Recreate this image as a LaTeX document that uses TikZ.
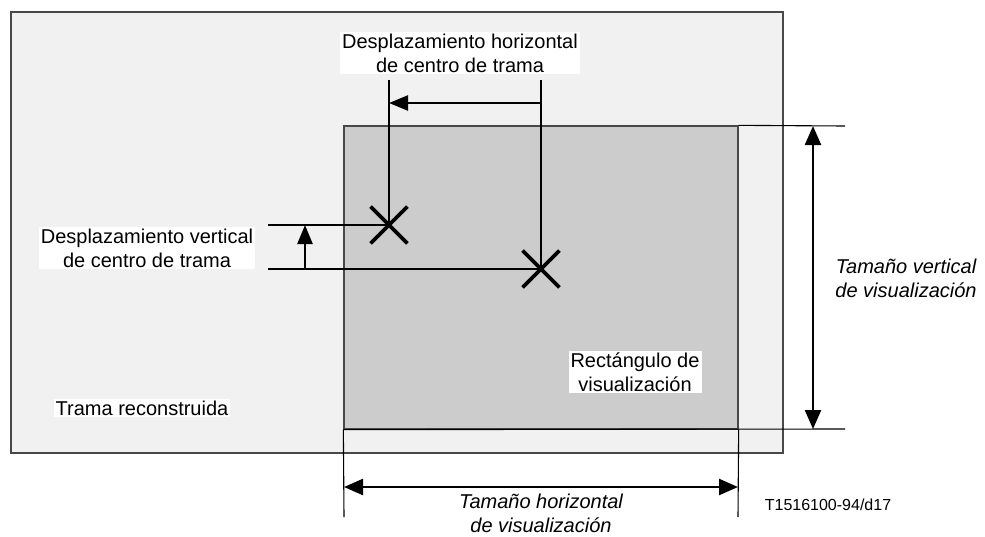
\documentclass[tikz,border=0pt]{standalone}
\usepackage{fontspec}
\setmainfont{Liberation Sans}
\usepackage{xcolor}
\usetikzlibrary{arrows.meta,shapes.misc,positioning}

\definecolor{framegray}{HTML}{484848}
\definecolor{lightbg}{HTML}{F1F1F1}
\definecolor{displaybg}{HTML}{CCCCCC}

\begin{document}
\begin{tikzpicture}[x=1pt,y=-1pt,
    thinline/.style={line width=1.1pt},
    dimarrow/.style={line width=2.4pt, -{Triangle[length=19pt,width=15pt]}},
    dimboth/.style={line width=2.4pt, {Triangle[length=19pt,width=16pt]}-{Triangle[length=19pt,width=16pt]}},
    textbox/.style={fill=white, inner sep=2pt, align=center, font=\fontsize{20}{24}\selectfont},
    centremark/.style={cross out, draw, line width=3.8pt, minimum size=33pt, inner sep=0pt}]

    \useasboundingbox (0,0) rectangle (985,536);

    % Frames
    \node[draw=framegray, fill=lightbg, line width=1.3pt, minimum width=772pt, minimum height=441pt, inner sep=0pt] (trama) at (397,232.5) {};
    \node[draw=framegray, fill=displaybg, line width=1.3pt, minimum width=394pt, minimum height=303pt, inner sep=0pt] (visual) at (541,277.5) {};

    % Frame centres
    \node[centremark] (x1) at (389,225) {};
    \node[centremark] (x2) at (541,269) {};

    % Horizontal displacement
    \coordinate (h1) at (389,80);
    \coordinate (h2) at (541,80);
    \draw[thinline] (x1.center) -- (h1);
    \draw[thinline] (x2.center) -- (h2);
    \draw[dimarrow] (x2 |- 0,103) -- (x1 |- 0,103);

    % Vertical displacement
    \coordinate (v1) at (268,225);
    \coordinate (v2) at (268,269);
    \draw[thinline] (v1) -- (x1.center);
    \draw[thinline] (v2) -- (x2.center);
    \draw[dimarrow] (305,269) -- (305,225);

    % Display size
    \coordinate (vtop) at (845,126);
    \coordinate (vbot) at (845,429);
    \coordinate (hl) at (344,517);
    \coordinate (hr) at (738,517);
    \draw[thinline] (visual.north east) -- (vtop);
    \draw[thinline] (visual.south west) -- (vbot);
    \draw[thinline] (visual.south west) -- (hl);
    \draw[thinline] (visual.south east) -- (hr);
    \draw[dimboth] ([xshift=-32pt]vtop) -- ([xshift=-32pt]vbot);
    \draw[dimboth] (hl |- 0,487) -- (hr |- 0,487);

    % Labels
    \node[textbox] (hlabel) at (460,53) {Desplazamiento horizontal\\de centro de trama};
    \node[textbox] (vlabel) at (147,248) {Desplazamiento vertical\\de centro de trama};
    \node[textbox] (tlabel) at (142,408) {Trama reconstruida};
    \node[textbox] (rlabel) at (635,372) {Rectángulo de\\visualización};
    \node[textbox, font=\fontsize{20}{24}\selectfont\itshape] (vsize) at (906,278) {Tamaño vertical\\de visualización};
    \node[textbox, font=\fontsize{20}{24}\selectfont\itshape] (hsize) at (541,513) {Tamaño horizontal\\de visualización};
    \node[font=\fontsize{16}{19}\selectfont, inner sep=0pt] (ref) at (828,505) {T1516100-94/d17};

\end{tikzpicture}
\end{document}
